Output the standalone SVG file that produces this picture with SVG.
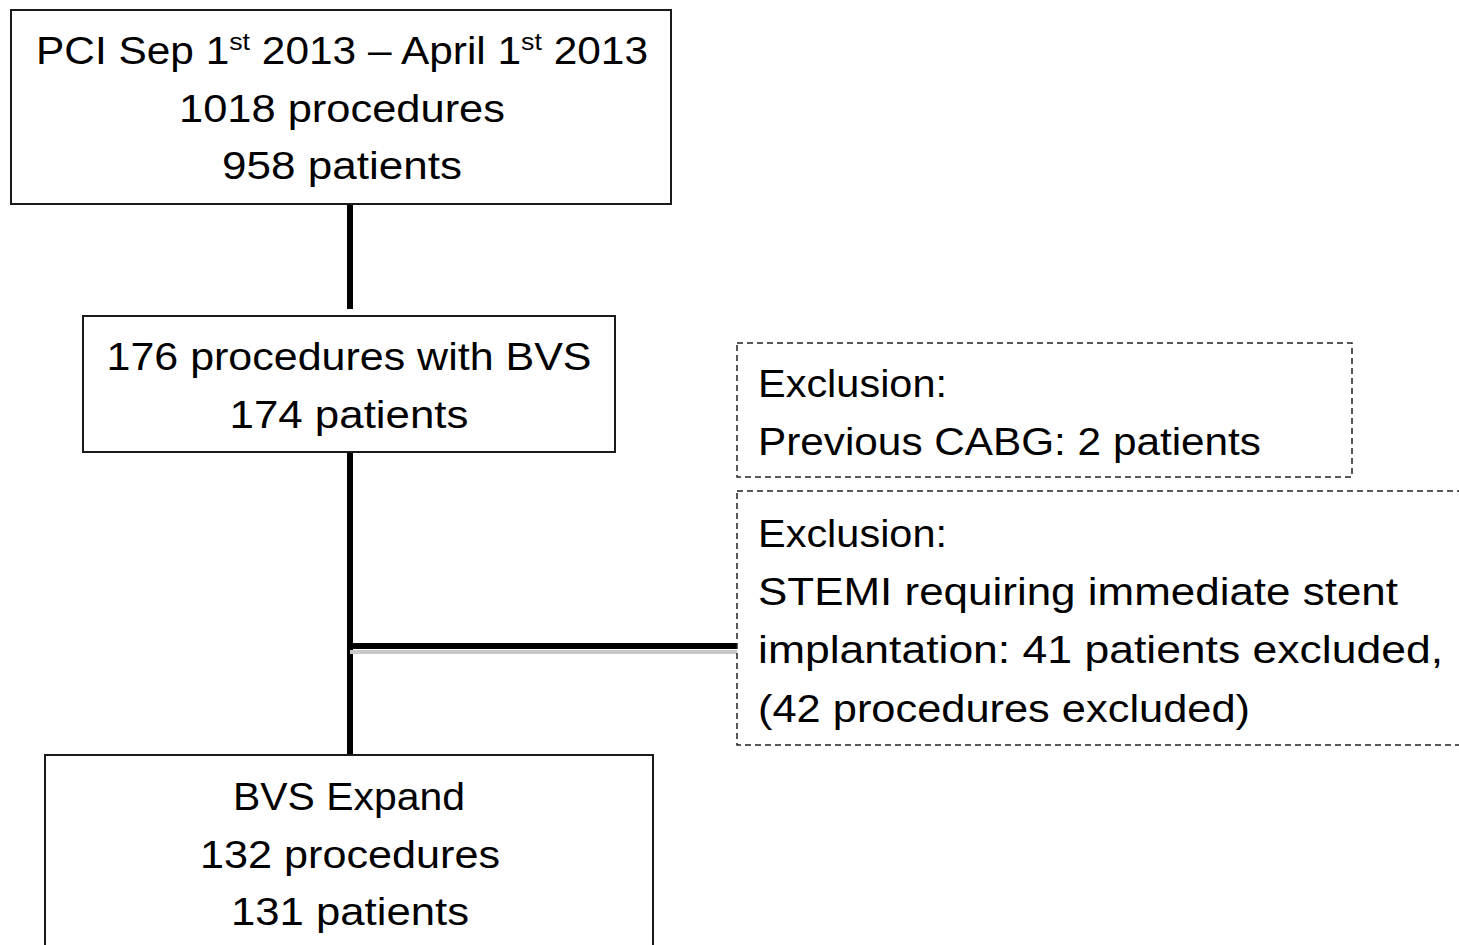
<svg xmlns="http://www.w3.org/2000/svg" width="1459" height="945" viewBox="0 0 1459 945">
<style>
.box{fill:#fff;stroke:#1a1a1a;stroke-width:2}
.dbox{fill:#fff;stroke:#222;stroke-width:1.5;stroke-dasharray:6 4}
.t{font-family:"Liberation Sans",Arial,sans-serif;font-size:38px;fill:#000}
.c{text-anchor:middle}
.conn{stroke:#000;stroke-width:6;fill:none}
</style>
<rect width="1459" height="945" fill="#fff"/>
<g id="connectors">
<line class="conn" x1="350" y1="204" x2="350" y2="309"/>
<line class="conn" x1="350" y1="452" x2="350" y2="756"/>
<line x1="350" y1="652" x2="737" y2="652" stroke="#c8c8c8" stroke-width="4"/>
<line class="conn" x1="347" y1="646" x2="737" y2="646"/>
</g>
<g id="node-pci">
<rect class="box" x="11" y="10" width="660" height="194"/>
<text class="t c" x="342" y="64" textLength="612" lengthAdjust="spacingAndGlyphs">PCI Sep 1<tspan font-size="24" dy="-14">st</tspan><tspan dy="14"> 2013 – April 1</tspan><tspan font-size="24" dy="-14">st</tspan><tspan dy="14"> 2013</tspan></text>
<text class="t c" x="342" y="122" textLength="326" lengthAdjust="spacingAndGlyphs">1018 procedures</text>
<text class="t c" x="342" y="179" textLength="240" lengthAdjust="spacingAndGlyphs">958 patients</text>
</g>
<g id="node-bvs">
<rect class="box" x="83" y="316" width="532" height="136"/>
<text class="t c" x="349" y="370" textLength="485" lengthAdjust="spacingAndGlyphs">176 procedures with BVS</text>
<text class="t c" x="349" y="428" textLength="239" lengthAdjust="spacingAndGlyphs">174 patients</text>
</g>
<g id="node-excl-cabg">
<rect class="dbox" x="737" y="343" width="615" height="134"/>
<text class="t" x="758" y="397" textLength="189" lengthAdjust="spacingAndGlyphs">Exclusion:</text>
<text class="t" x="758" y="455" textLength="503" lengthAdjust="spacingAndGlyphs">Previous CABG: 2 patients</text>
</g>
<g id="node-excl-stemi">
<rect class="dbox" x="737" y="491" width="740" height="254"/>
<text class="t" x="758" y="547" textLength="189" lengthAdjust="spacingAndGlyphs">Exclusion:</text>
<text class="t" x="758" y="605" textLength="640" lengthAdjust="spacingAndGlyphs">STEMI requiring immediate stent</text>
<text class="t" x="758" y="663" textLength="685" lengthAdjust="spacingAndGlyphs">implantation: 41 patients excluded,</text>
<text class="t" x="758" y="722" textLength="492" lengthAdjust="spacingAndGlyphs">(42 procedures excluded)</text>
</g>
<g id="node-expand">
<rect class="box" x="45" y="755" width="608" height="200"/>
<text class="t c" x="349" y="810" textLength="232" lengthAdjust="spacingAndGlyphs">BVS Expand</text>
<text class="t c" x="350" y="868" textLength="300" lengthAdjust="spacingAndGlyphs">132 procedures</text>
<text class="t c" x="350" y="925" textLength="238" lengthAdjust="spacingAndGlyphs">131 patients</text>
</g>
</svg>
